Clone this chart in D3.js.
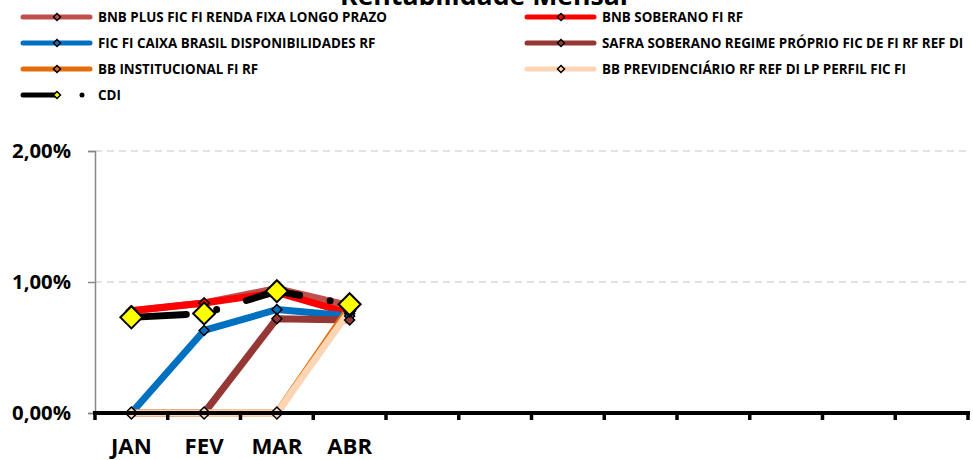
<!DOCTYPE html>
<html><head><meta charset="utf-8">
<script src="https://cdn.jsdelivr.net/npm/d3@7"></script>
<style>
html,body{margin:0;padding:0;background:#fff;}
svg{display:block;font-family:"Open Sans",Lato,sans-serif;font-weight:bold;}
</style></head>
<body>
<svg id="chart" width="973" height="460"></svg>
<script>
const title = "Rentabilidade Mensal";
const categories = ["JAN","FEV","MAR","ABR","MAI","JUN","JUL","AGO","SET","OUT","NOV","DEZ"];
const tickLabels = ["JAN","FEV","MAR","ABR","","","","","","","",""];
const yTicks = [0, 0.01, 0.02];
const seriesNames = [
  "BNB PLUS FIC FI RENDA FIXA LONGO PRAZO",
  "BNB SOBERANO FI RF",
  "FIC FI CAIXA BRASIL DISPONIBILIDADES RF",
  "SAFRA SOBERANO REGIME PRÓPRIO FIC DE FI RF REF DI",
  "BB INSTITUCIONAL FI RF",
  "BB PREVIDENCIÁRIO RF REF DI LP PERFIL FIC FI",
  "CDI"
];
const bnbPlus   = [0.0078, 0.0084, 0.0095, 0.0082];
const bnbSob    = [0.0078, 0.0084, 0.0092, 0.0076];
const caixa     = [0.0000, 0.0063, 0.0079, 0.0074];
const safra     = [0.0000, 0.0000, 0.0072, 0.0071];
const bbInst    = [0.0000, 0.0000, 0.0000, 0.0081];
const bbPrev    = [0.0000, 0.0000, 0.0000, 0.0078];
const cdi       = [0.0073, 0.0076, 0.0093, 0.0083];
const seriesValues = [bnbPlus, bnbSob, caixa, safra, bbInst, bbPrev, cdi];
const lineColors = ["#C0504D","#FF0000","#0070C0","#953735","#E46C0A","#FCD5B5","#000000"];
const markerFills = ["#C0504D","#FF0000","#0070C0","#953735","#E46C0A","#FCD5B5","#FFFF00"];

const svg = d3.select("#chart");
const pLeft = 95, pRight = 968, pTop = 151, pBottom = 413;

const x = d3.scaleBand().domain(categories).range([pLeft, pRight]);
const y = d3.scaleLinear().domain([0, 0.02]).range([pBottom, pTop]);

// measure helper: font size that gives a target width
function fitSize(str, target, base) {
  const t = svg.append("text").style("font-size", base + "px").text(str);
  const w = t.node().getComputedTextLength();
  t.remove();
  return base * target / w;
}
const titleSize = fitSize(title, 288, 24);
const legendSize = fitSize(seriesNames[0], 289, 12);
const ySize = fitSize("2,00%", 59, 16);
const xSize = fitSize("MAR", 51, 18);

// title (cut off at top, as in the reference)
svg.append("text").attr("x", 484).attr("y", 5).attr("text-anchor","middle")
  .style("font-size", titleSize + "px").text(title);

// gridlines
svg.append("g").selectAll("line").data(yTicks.filter(d=>d>0)).join("line")
  .attr("x1", pLeft).attr("x2", pRight).attr("y1", d=>y(d)).attr("y2", d=>y(d))
  .attr("stroke","#d9d9d9").attr("stroke-width",1.3).attr("stroke-dasharray","7,5");

// y axis
const fmt = d => d3.format(".2f")(d*100).replace(".", ",") + "%";
const yAxis = svg.append("g").attr("transform",`translate(${pLeft},0)`)
  .call(d3.axisLeft(y).tickValues(yTicks).tickSize(7).tickFormat(fmt));
yAxis.select(".domain").attr("stroke","#888").attr("stroke-width",1.5);
yAxis.selectAll(".tick line").attr("stroke","#888").attr("stroke-width",1.5);
yAxis.selectAll(".tick text").attr("x",-24).attr("fill","#000")
  .style("font-size", ySize + "px").style("font-family","'Open Sans',sans-serif").style("font-weight","bold");

// series lines
const line = d3.line().x((d,i)=>x(categories[i]) + x.bandwidth()/2).y(d=>y(d));
seriesValues.forEach((vals, si) => {
  const p = svg.append("path").datum(vals).attr("d", line)
    .attr("fill","none").attr("stroke", lineColors[si]).attr("stroke-width", 7)
    .attr("stroke-linejoin","round");
  if (si === 6) p.attr("stroke-dasharray","55,31,0,31").attr("stroke-linecap","round");
});

// markers
const diamond = (cx, cy, r) => `M${cx},${cy-r}L${cx+r},${cy}L${cx},${cy+r}L${cx-r},${cy}Z`;
seriesValues.forEach((vals, si) => {
  const r = si === 6 ? 11 : (si === 5 ? 6 : 5);
  svg.append("g").selectAll("path").data(vals).join("path")
    .attr("d", (d,i) => diamond(x(categories[i]) + x.bandwidth()/2, y(d), r))
    .attr("fill", markerFills[si]).attr("stroke","#000").attr("stroke-width", si===6?2:1.5);
});

// x axis
const xAxis = svg.append("g").attr("transform",`translate(0,${pBottom})`);
xAxis.append("line").attr("x1", pLeft-2).attr("x2", pRight+2).attr("y1",0).attr("y2",0)
  .attr("stroke","#000").attr("stroke-width",4);
const edges = d3.range(categories.length+1).map(i => i < categories.length ? x(categories[i]) : pRight);
xAxis.selectAll(".tk").data(edges).join("line").attr("class","tk")
  .attr("x1", d=>d).attr("x2", d=>d).attr("y1",0).attr("y2",7)
  .attr("stroke","#000").attr("stroke-width",3.5);
xAxis.selectAll(".lbl").data(categories).join("text").attr("class","lbl")
  .attr("x", d => x(d) + x.bandwidth()/2).attr("y", 41).attr("text-anchor","middle")
  .style("font-size", xSize + "px").text((d,i)=>tickLabels[i]);

// legend
const legendPos = [
  {lx:21, ly:17}, {lx:525, ly:17},
  {lx:21, ly:43}, {lx:525, ly:43},
  {lx:21, ly:69}, {lx:525, ly:69},
  {lx:21, ly:95}
];
const lg = svg.append("g");
seriesNames.forEach((name, si) => {
  const {lx, ly} = legendPos[si];
  const g = lg.append("g");
  const lineEnd = si === 6 ? lx + 37 : lx + 71;
  g.append("line").attr("x1", lx+2).attr("x2", lineEnd-2).attr("y1", ly).attr("y2", ly)
    .attr("stroke", lineColors[si]).attr("stroke-width", 5).attr("stroke-linecap","round");
  g.append("path").attr("d", diamond(lx+36, ly, 3.5))
    .attr("fill", markerFills[si]).attr("stroke","#000").attr("stroke-width",1.5);
  if (si === 6) g.append("circle").attr("cx", lx+61).attr("cy", ly).attr("r",2.5).attr("fill","#000");
  g.append("text").attr("x", lx+77).attr("y", ly+4.5)
    .style("font-size", legendSize + "px").text(name);
});
</script>
</body></html>
